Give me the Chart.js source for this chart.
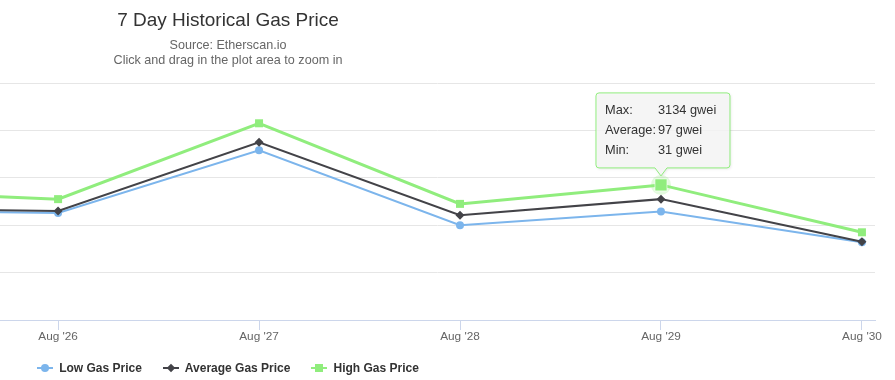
<!DOCTYPE html>
<html>
<head>
<meta charset="utf-8">
<title>7 Day Historical Gas Price</title>
<script src="https://cdn.jsdelivr.net/npm/chart.js@4.4.0/dist/chart.umd.min.js"></script>
<style>
  html, body { margin: 0; padding: 0; background: #fff; }
  #wrap { position: relative; width: 895px; height: 380px; overflow: hidden; font-family: 'Liberation Sans', Arial, sans-serif; }
  #gasChart { position: absolute; left: 0; top: 0; }
  .title { position: absolute; left: 0; top: 10px; width: 456px; text-align: center; font-size: 19px; line-height: 19px; color: #333333; }
  .subtitle { position: absolute; left: 0; top: 38px; width: 456px; text-align: center; font-size: 12.6px; line-height: 15px; color: #666666; }
  .legend { position: absolute; left: 0; top: 362px; width: 456px; display: flex; justify-content: center; }
  .legend-item { display: flex; align-items: center; margin: 0 10.5px; font-weight: bold; font-size: 12px; line-height: 12px; color: #333333; white-space: nowrap; }
  .swatch { position: relative; width: 16px; height: 12px; margin-right: 6px; }
  .swatch .line { position: absolute; left: 0; top: 5px; width: 16px; height: 2px; }
  .swatch .mark { position: absolute; }
</style>
</head>
<body>
<div id="wrap">
  <canvas id="gasChart" width="895" height="380"></canvas>
  <div class="title">7 Day Historical Gas Price</div>
  <div class="subtitle">Source: Etherscan.io<br>Click and drag in the plot area to zoom in</div>
  <div class="legend" id="legend"></div>
</div>
<script>
  // daily gas price (gwei), Aug 25 sits just left of the visible plot
  const days = [25, 26, 27, 28, 29, 30];
  const tickDays = [26, 27, 28, 29, 30];
  const tickLabels = ["Aug '26", "Aug '27", "Aug '28", "Aug '29", "Aug '30"];
  const lowPrice = [23.1, 22.6, 35.8, 20.0, 22.9, 16.4];
  const avgPrice = [23.6, 23.0, 37.5, 22.1, 25.5, 16.5];
  const highPrice = [27.3, 25.5, 41.5, 24.5, 28.5, 18.5];

  const seriesNames = ['Low Gas Price', 'Average Gas Price', 'High Gas Price'];
  const seriesColors = ['#7cb5ec', '#434348', '#90ed7d'];

  // tooltip shown on the hovered High Gas Price point
  const hoverDay = 29;
  const tooltipNames = ['Max:', 'Average:', 'Min:'];
  const tooltipValues = ['3134 gwei', '97 gwei', '31 gwei'];

  const hoverIndex = days.indexOf(hoverDay);

  function toPoints(values) {
    return values.map(function (v, i) { return { x: days[i], y: v }; });
  }

  const haloPlugin = {
    id: 'halo',
    beforeDatasetDraw: function (chart, args) {
      if (args.index !== 2) return;
      const pt = args.meta.data[hoverIndex];
      if (!pt) return;
      const ctx = chart.ctx;
      ctx.save();
      ctx.fillStyle = 'rgba(144, 237, 125, 0.25)';
      ctx.beginPath();
      ctx.arc(pt.x, pt.y, 10, 0, Math.PI * 2);
      ctx.fill();
      ctx.restore();
    }
  };

  const calloutPlugin = {
    id: 'callout',
    afterDraw: function (chart) {
      const pt = chart.getDatasetMeta(2).data[hoverIndex];
      if (!pt) return;
      const ctx = chart.ctx;
      const x = pt.x, y = pt.y;
      const w = 134, h = 75, r = 3;
      const left = x - 65, top = y - 92, bottom = top + h, right = left + w;

      ctx.save();
      ctx.beginPath();
      ctx.moveTo(left + r, top);
      ctx.lineTo(right - r, top);
      ctx.arcTo(right, top, right, top + r, r);
      ctx.lineTo(right, bottom - r);
      ctx.arcTo(right, bottom, right - r, bottom, r);
      ctx.lineTo(x + 6, bottom);
      ctx.lineTo(x, y - 9);
      ctx.lineTo(x - 6, bottom);
      ctx.lineTo(left + r, bottom);
      ctx.arcTo(left, bottom, left, bottom - r, r);
      ctx.lineTo(left, top + r);
      ctx.arcTo(left, top, left + r, top, r);
      ctx.closePath();
      ctx.shadowColor = 'rgba(0, 0, 0, 0.12)';
      ctx.shadowBlur = 3;
      ctx.shadowOffsetX = 1;
      ctx.shadowOffsetY = 1;
      ctx.fillStyle = 'rgba(247, 247, 247, 0.85)';
      ctx.fill();
      ctx.shadowColor = 'transparent';
      ctx.strokeStyle = seriesColors[2];
      ctx.lineWidth = 1;
      ctx.stroke();

      ctx.fillStyle = '#333333';
      ctx.font = '12.8px "Liberation Sans", Arial, sans-serif';
      ctx.textBaseline = 'alphabetic';
      ctx.textAlign = 'left';
      tooltipNames.forEach(function (name, i) {
        ctx.fillText(name, left + 9, top + 21 + i * 20);
        ctx.fillText(tooltipValues[i], x - 3, top + 21 + i * 20);
      });
      ctx.restore();
    }
  };

  const ctx = document.getElementById('gasChart').getContext('2d');
  new Chart(ctx, {
    type: 'line',
    data: {
      datasets: [
        {
          label: seriesNames[0],
          data: toPoints(lowPrice),
          borderColor: seriesColors[0],
          backgroundColor: seriesColors[0],
          borderWidth: 2,
          pointStyle: 'circle',
          pointRadius: 4,
          pointBorderWidth: 0,
          tension: 0,
          order: 3
        },
        {
          label: seriesNames[1],
          data: toPoints(avgPrice),
          borderColor: seriesColors[1],
          backgroundColor: seriesColors[1],
          borderWidth: 2,
          pointStyle: 'rectRot',
          pointRadius: 4.5,
          pointBorderWidth: 0,
          tension: 0,
          order: 2
        },
        {
          label: seriesNames[2],
          data: toPoints(highPrice),
          borderColor: seriesColors[2],
          backgroundColor: seriesColors[2],
          borderWidth: 3,
          pointStyle: 'rect',
          pointRadius: function (c) { return c.dataIndex === hoverIndex ? 8.5 : 5.66; },
          pointBorderWidth: function (c) { return c.dataIndex === hoverIndex ? 1 : 0; },
          pointBorderColor: function (c) { return c.dataIndex === hoverIndex ? 'rgba(255,255,255,0.6)' : seriesColors[2]; },
          tension: 0,
          order: 1
        }
      ]
    },
    options: {
      responsive: false,
      devicePixelRatio: 1,
      animation: false,
      events: [],
      layout: { autoPadding: false, padding: { top: 83, left: 0, right: 20, bottom: 0 } },
      plugins: {
        legend: { display: false },
        title: { display: false },
        tooltip: { enabled: false }
      },
      scales: {
        x: {
          type: 'linear',
          min: 25.711,
          max: 30.065,
          afterFit: function (scale) {
            scale.height = 60;
            scale.paddingLeft = 0;
            scale.paddingRight = 0;
          },
          afterBuildTicks: function (scale) {
            scale.ticks = tickDays.map(function (d) { return { value: d }; });
          },
          ticks: {
            autoSkip: false,
            maxRotation: 0,
            padding: 0,
            color: '#666666',
            font: { family: '"Liberation Sans", Arial, sans-serif', size: 11.8 },
            callback: function (v) {
              const i = tickDays.indexOf(v);
              return i >= 0 ? tickLabels[i] : '';
            }
          },
          grid: {
            drawOnChartArea: false,
            drawTicks: true,
            tickLength: 10,
            color: '#ccd6eb',
            lineWidth: 1
          },
          border: { display: true, color: '#ccd6eb', width: 1 }
        },
        y: {
          min: 0,
          max: 50,
          afterFit: function (scale) {
            scale.width = 0;
            scale.paddingTop = 0;
            scale.paddingBottom = 0;
          },
          ticks: { display: false, stepSize: 10 },
          grid: {
            drawTicks: false,
            color: function (c) { return c.tick && c.tick.value === 0 ? 'rgba(0,0,0,0)' : '#e6e6e6'; },
            lineWidth: 1
          },
          border: { display: false }
        }
      }
    },
    plugins: [haloPlugin, calloutPlugin]
  });

  // Highcharts-style legend: line + marker, then bold name
  const markerCss = [
    'left:4px;top:2px;width:8px;height:8px;border-radius:50%;',
    'left:5px;top:3px;width:6px;height:6px;transform:rotate(45deg);',
    'left:4px;top:2px;width:8px;height:8px;'
  ];
  const legendEl = document.getElementById('legend');
  seriesNames.forEach(function (name, i) {
    const item = document.createElement('div');
    item.className = 'legend-item';
    item.innerHTML = '<span class="swatch"><span class="line" style="background:' + seriesColors[i] + '"></span>' +
      '<span class="mark" style="' + markerCss[i] + 'background:' + seriesColors[i] + '"></span></span>' +
      '<span>' + name + '</span>';
    legendEl.appendChild(item);
  });
</script>
</body>
</html>
